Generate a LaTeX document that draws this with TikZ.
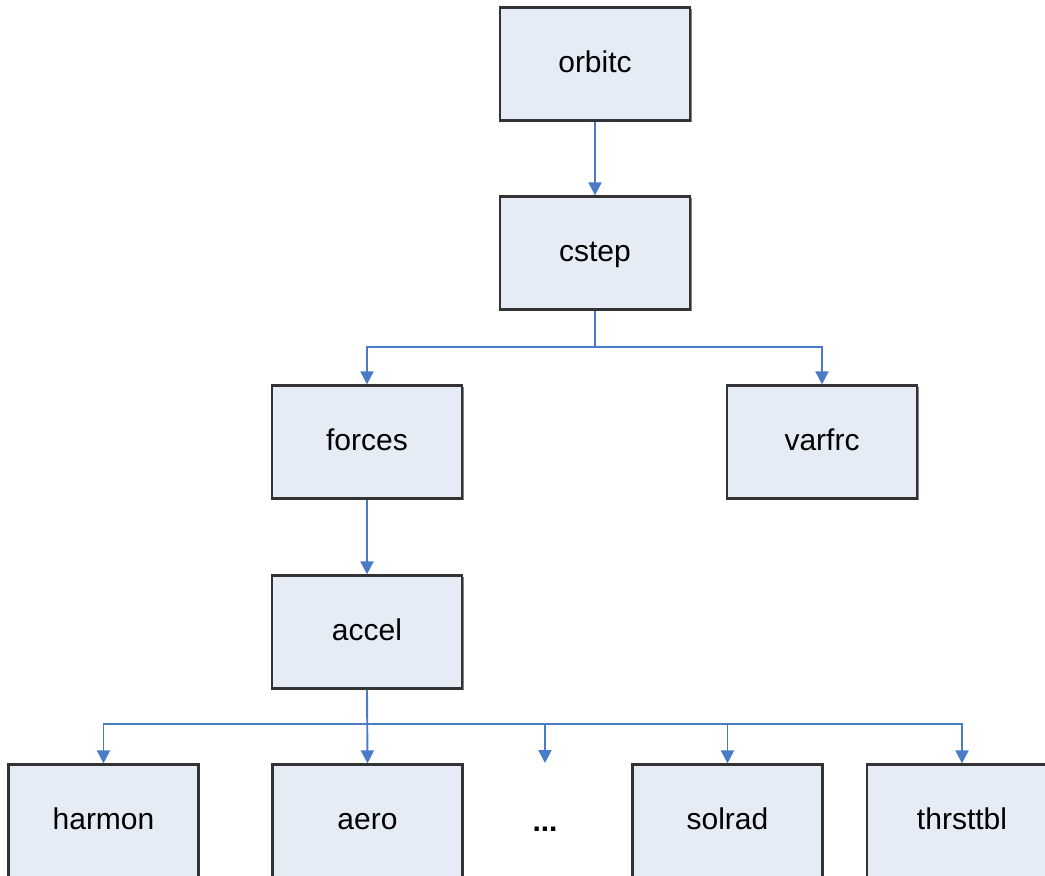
\documentclass[tikz,border=0pt]{standalone}
\usepackage{fontspec}
\setmainfont{Liberation Sans}
\usetikzlibrary{arrows.meta,shadows}
\definecolor{boxfill}{HTML}{E6ECF6}
\definecolor{boxline}{HTML}{333333}
\definecolor{arrowc}{HTML}{4A7CC6}
\tikzset{
  blk/.style={draw=boxline, line width=2.2pt, fill=boxfill, minimum width=190pt, minimum height=113pt,
    inner sep=0pt, text height=22pt, text depth=6pt, font=\fontsize{30}{36}\selectfont,
    drop shadow={shadow xshift=1.8pt, shadow yshift=-1.8pt, fill=black!50, opacity=1}},
  conn/.style={draw=arrowc, line width=1.9pt},
  arr/.style={conn, -{Triangle[width=13pt,length=13pt]}}
}
\begin{document}
\begin{tikzpicture}[x=1pt,y=-1pt]
\useasboundingbox (0,0) rectangle (1045,876);
\begin{scope}
\clip (0,0) rectangle (1045,876);
\node[blk] (orbitc) at (595,64) {orbitc};
\node[blk] (cstep) at (595,253) {cstep};
\node[blk] (forces) at (367,442) {forces};
\node[blk] (varfrc) at (822,442) {varfrc};
\node[blk] (accel) at (367,632) {accel};
\node[blk] (harmon) at (103.5,821) {harmon};
\node[blk] (aero) at (367.5,821) {aero};
\node[text height=22pt, text depth=6pt] (dots) at (545,823) {\fontsize{30}{36}\selectfont\bfseries ...};
\coordinate (dotsTop) at (545,763);
\node[blk] (solrad) at (727.5,821) {solrad};
\node[blk] (thrsttbl) at (962,821) {thrsttbl};

\draw[arr] (orbitc.south) -- (cstep.north);

\coordinate (b1) at (595,347);
\draw[conn] (cstep.south) -- (b1);
\draw[arr] (b1) -| (forces.north);
\draw[arr] (b1) -| (varfrc.north);

\draw[arr] (forces.south) -- (accel.north);

\coordinate (b2) at (367,724);
\draw[arr] (accel.south) -- (aero.north);
\draw[arr] (b2) -| (harmon.north);
\draw[arr] (b2) -| (dotsTop);
\draw[arr] (b2) -| (solrad.north);
\draw[arr] (b2) -| (thrsttbl.north);
\end{scope}
\end{tikzpicture}
\end{document}
